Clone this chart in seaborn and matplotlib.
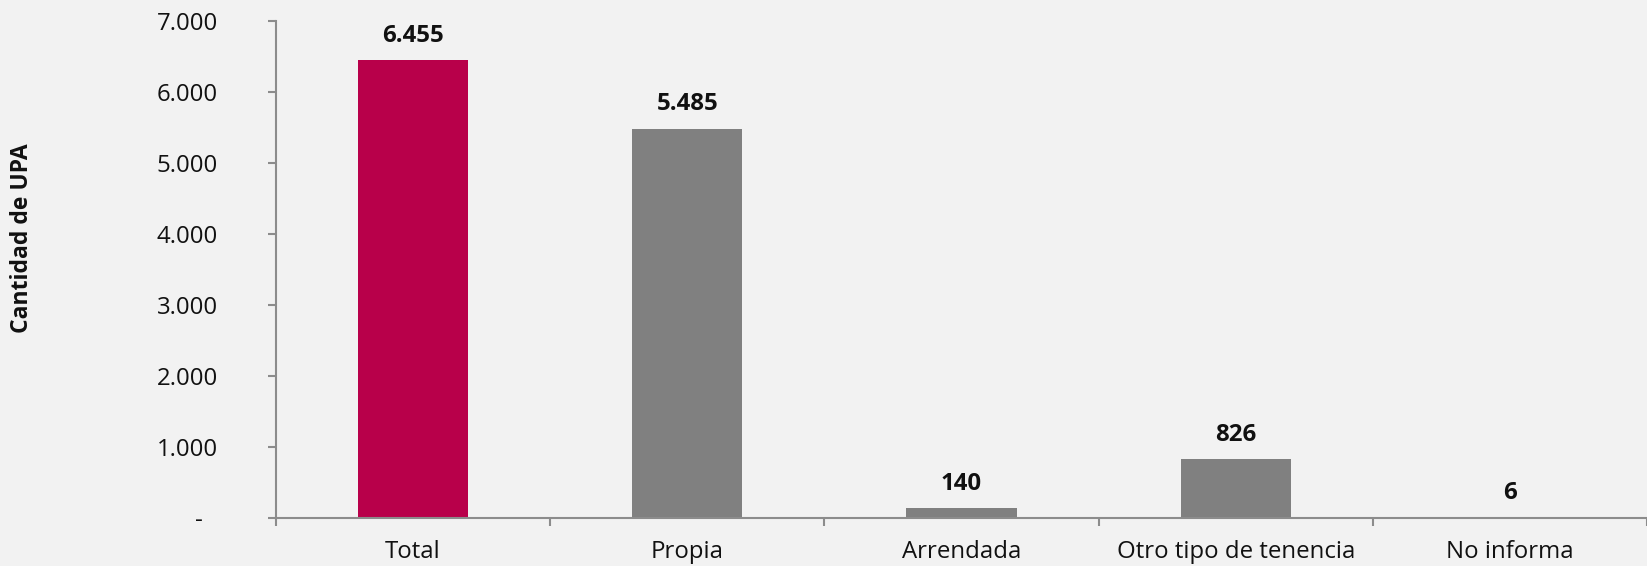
import matplotlib
matplotlib.use('Agg')
import matplotlib.pyplot as plt
import matplotlib.transforms as mtransforms
import seaborn as sns

# datos
categorias = ['Total', 'Propia', 'Arrendada', 'Otro tipo de tenencia', 'No informa']
valores = [6455, 5485, 140, 826, 6]
colores = ['#B8004A', '#808080', '#808080', '#808080', '#808080']
yticks = [0, 1000, 2000, 3000, 4000, 5000, 6000, 7000]
ytick_labels = ['-', '1.000', '2.000', '3.000', '4.000', '5.000', '6.000', '7.000']

sns.set_style('white')
plt.rcParams['font.family'] = ['Open Sans', 'DejaVu Sans']

fondo = '#F2F2F2'
gris_eje = '#8C8C8C'
fs = 17.3

fig = plt.figure(figsize=(16.47, 5.66), dpi=100, facecolor=fondo)
ax = fig.add_axes([276 / 1647, 1 - 517.7 / 566, 1 - 276 / 1647, (517.7 - 21) / 566])
ax.set_facecolor(fondo)

sns.barplot(x=categorias, y=valores, hue=categorias, palette=colores,
            legend=False, width=0.402, saturation=1, linewidth=0, ax=ax)

ax.set_ylim(0, 7000)
ax.set_xlim(-0.5, -0.5 + (1647 - 276) / 276)
ax.set_yticks(yticks)
ax.set_yticklabels(ytick_labels)
ax.set_xticks(range(len(categorias)))
ax.set_xticklabels(categorias)
ax.set_xticks([i - 0.5 for i in range(len(categorias) + 1)], minor=True)

for s in ['top', 'right']:
    ax.spines[s].set_visible(False)
for s in ['left', 'bottom']:
    ax.spines[s].set_color(gris_eje)
    ax.spines[s].set_linewidth(1.5)

ax.tick_params(axis='y', direction='out', length=6, width=1.5, color=gris_eje,
               labelsize=fs, labelcolor='#111111', pad=36, left=True)
ax.tick_params(axis='x', which='major', length=0, labelsize=fs,
               labelcolor='#111111', pad=16)
ax.tick_params(axis='x', which='minor', direction='out', length=6, width=1.5,
               color=gris_eje, bottom=True)

# mover el "-" del cero un poco a la izquierda
lab0 = ax.get_yticklabels()[0]
lab0.set_transform(lab0.get_transform() +
                   mtransforms.ScaledTranslation(-0.15, 0, fig.dpi_scale_trans))

# etiquetas de datos
for i, v in enumerate(valores):
    ax.annotate(f'{v:,}'.replace(',', '.'), (i, v), xytext=(0, 13),
                textcoords='offset points', ha='center', va='baseline',
                fontsize=fs, fontweight='bold', color='#111111')

ax.set_xlabel('')
ax.set_ylabel('')
fig.text(22 / 1647, 1 - 238 / 566, 'Cantidad de UPA', rotation=90,
         ha='center', va='center', fontsize=16.5, fontweight='bold', color='#111111')

fig.savefig('out.png', dpi=100, facecolor=fondo)
